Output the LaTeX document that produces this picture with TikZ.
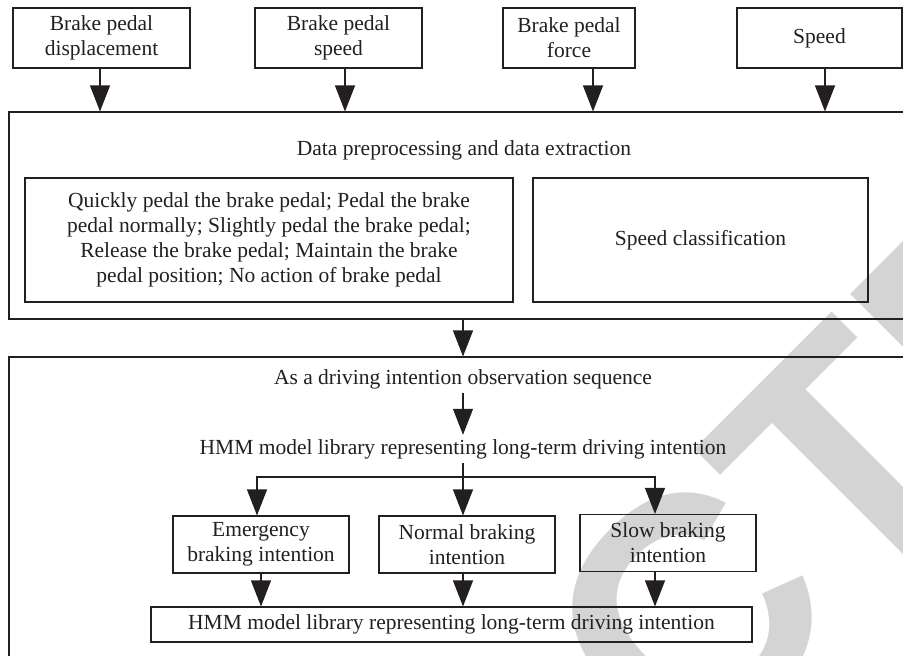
\documentclass[tikz,border=0pt]{standalone}
\usepackage{fontspec}
\setmainfont{Liberation Serif}
\newfontfamily\wmfont{Liberation Sans}
\usetikzlibrary{arrows.meta}
\definecolor{ink}{RGB}{35,31,32}
\definecolor{wmgray}{RGB}{212,212,212}
\begin{document}
\begin{tikzpicture}[x=1pt, y=-1pt,
  box/.style={draw=ink, line width=1.1pt, align=center, inner sep=0pt, text=ink,
    font=\fontsize{21.5}{25}\selectfont},
  lbl/.style={inner xsep=0pt, inner ysep=5pt, text height=14pt, text depth=4pt,
    anchor=base, text=ink, font=\fontsize{21.5}{25}\selectfont},
  arr/.style={-{Triangle[length=26pt,width=20pt]}, line width=1.1pt, draw=ink}]
  \useasboundingbox (0,0) rectangle (903,656);
  \clip (0,0) rectangle (903,656);

  \node[wmgray, rotate=45, inner sep=0pt,
    font=\wmfont\bfseries\fontsize{330}{330}\selectfont] (wm) at (520,785) {RETRACTED};

  \node[box, minimum width=177pt, minimum height=60pt] (disp) at (101.5,38) {Brake pedal\\displacement};
  \node[box, minimum width=167pt, minimum height=60pt] (pspd) at (338.5,38) {Brake pedal\\speed};
  \node[box, minimum width=132pt, minimum height=60pt] (force) at (569,38) {Brake pedal\\force};
  \node[box, minimum width=165pt, minimum height=60pt] (vel) at (819.5,38) {Speed};

  \node[box, minimum width=911pt, minimum height=207pt] (pre) at (464.5,215.5) {};
  \node[lbl] (pretxt) at (464,155) {Data preprocessing and data extraction};
  \node[box, minimum width=488pt, minimum height=124pt] (act) at (269,240)
    {Quickly pedal the brake pedal; Pedal the brake\\pedal normally; Slightly pedal the brake pedal;\\Release the brake pedal; Maintain the brake\\pedal position; No action of brake pedal};
  \node[box, minimum width=335pt, minimum height=124pt] (spdc) at (700.5,240) {Speed classification};

  \node[box, minimum width=911pt, minimum height=343pt] (obs) at (464.5,528.5) {};
  \node[lbl] (seq) at (463,384) {As a driving intention observation sequence};
  \node[lbl] (lib) at (463,454) {HMM model library representing long-term driving intention};
  \coordinate (fork) at (463,477);

  \node[box, minimum width=176pt, minimum height=57pt] (emg) at (261,544.5) {Emergency\\braking intention};
  \node[box, minimum width=176pt, minimum height=57pt] (nrm) at (467,544.5) {Normal braking\\intention};
  \node[box, minimum width=176pt, minimum height=57pt] (slw) at (668,543) {Slow braking\\intention};
  \node[box, minimum width=601pt, minimum height=35pt] (res) at (451.5,624.5)
    {HMM model library representing long-term driving intention};

  \foreach \n/\dx in {disp/-1.5, pspd/6.5, force/24, vel/5.5}
    \draw[arr] ([xshift=\dx pt]\n.south) -- ([xshift=\dx pt]\n.south |- pre.north);

  \draw[arr] (pre.south -| seq) -- (obs.north -| seq);
  \draw[arr] (seq.south) -- (lib.north);
  \draw[line width=1.1pt, ink] (lib.south) -- (fork);
  \draw[arr] (fork) -- (fork |- nrm.north);
  \draw[arr] (fork) -| ([xshift=-4pt]emg.north);
  \draw[arr] (fork) -| ([xshift=-13pt]slw.north);
  \draw[arr] (emg.south) -- (emg.south |- res.north);
  \draw[arr] ([xshift=-4pt]nrm.south) -- ([xshift=-4pt]nrm.south |- res.north);
  \draw[arr] ([xshift=-13pt]slw.south) -- ([xshift=-13pt]slw.south |- res.north);
\end{tikzpicture}
\end{document}
